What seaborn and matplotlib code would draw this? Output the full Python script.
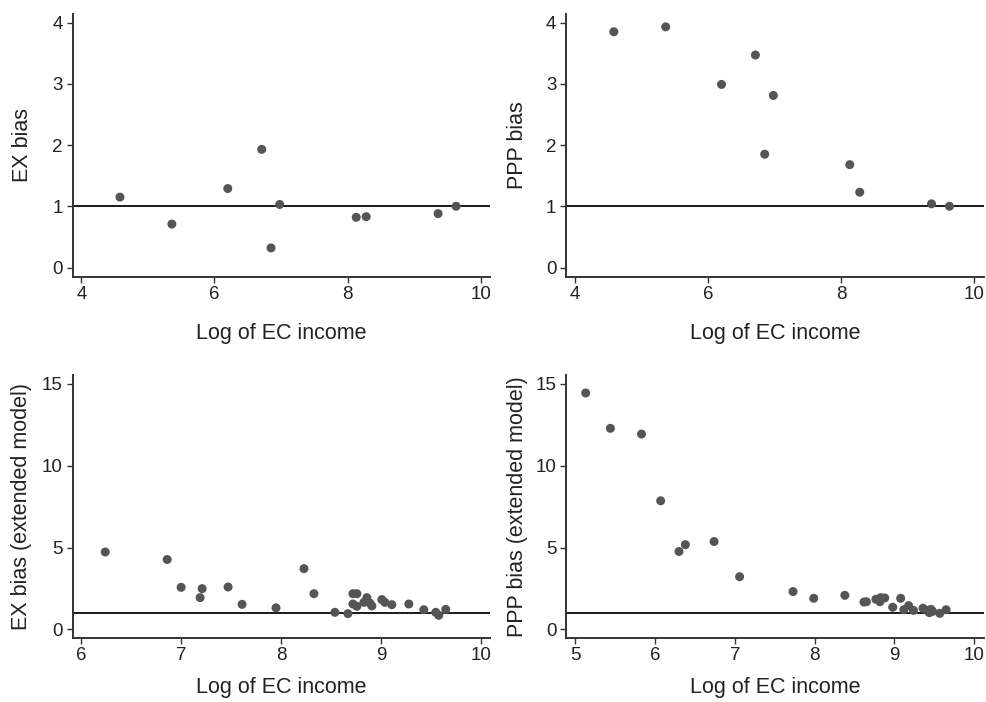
import matplotlib
matplotlib.use("Agg")
import matplotlib.pyplot as plt
import seaborn as sns
import pandas as pd

# ---- data ----
log_ec_income = [4.58, 5.36, 6.20, 6.71, 6.85, 6.98, 8.13, 8.28, 9.36, 9.63]
ex_bias = [1.15, 0.71, 1.29, 1.93, 0.32, 1.03, 0.82, 0.83, 0.88, 1.00]
ppp_bias = [3.85, 3.93, 2.99, 3.47, 1.85, 2.81, 1.68, 1.23, 1.04, 1.00]

ext_ex_income = [6.24, 6.86, 7.00, 7.19, 7.21, 7.47, 7.61, 7.95, 8.23, 8.33,
                 8.54, 8.67, 8.72, 8.72, 8.76, 8.76, 8.83, 8.86, 8.89, 8.91,
                 9.01, 9.04, 9.11, 9.28, 9.43, 9.55, 9.58, 9.65]
ext_ex_bias = [4.73, 4.27, 2.57, 1.94, 2.49, 2.59, 1.53, 1.31, 3.71, 2.18,
               1.04, 0.96, 2.18, 1.55, 2.18, 1.41, 1.65, 1.94, 1.61, 1.43,
               1.82, 1.65, 1.51, 1.55, 1.20, 1.04, 0.86, 1.22]

ext_ppp_income = [5.13, 5.44, 5.83, 6.07, 6.30, 6.38, 6.74, 7.06, 7.73, 7.99,
                  8.38, 8.62, 8.65, 8.77, 8.82, 8.83, 8.88, 8.98, 9.08, 9.12,
                  9.18, 9.24, 9.36, 9.42, 9.44, 9.46, 9.48, 9.57, 9.65]
ext_ppp_bias = [14.45, 12.29, 11.94, 7.86, 4.76, 5.18, 5.37, 3.22, 2.31, 1.90,
                2.08, 1.67, 1.69, 1.84, 1.69, 1.94, 1.92, 1.35, 1.90, 1.20,
                1.45, 1.16, 1.29, 1.16, 1.02, 1.22, 1.10, 0.98, 1.20]

x_label = "Log of EC income"
y_labels = ["EX bias", "PPP bias", "EX bias (extended model)", "PPP bias (extended model)"]
x_ticks = [[4, 6, 8, 10], [4, 6, 8, 10], [6, 7, 8, 9, 10], [5, 6, 7, 8, 9, 10]]
y_ticks = [[0, 1, 2, 3, 4], [0, 1, 2, 3, 4], [0, 5, 10, 15], [0, 5, 10, 15]]
x_lims = [(3.87, 10.14), (3.86, 10.15), (5.914, 10.093), (4.883, 10.125)]
y_lims = [(-0.15, 4.14), (-0.15, 4.14), (-0.51, 15.55), (-0.51, 15.55)]

panels = [
    pd.DataFrame({"x": log_ec_income, "y": ex_bias}),
    pd.DataFrame({"x": log_ec_income, "y": ppp_bias}),
    pd.DataFrame({"x": ext_ex_income, "y": ext_ex_bias}),
    pd.DataFrame({"x": ext_ppp_income, "y": ext_ppp_bias}),
]

sns.set_style("ticks")
plt.rcParams["font.family"] = ["Liberation Sans", "DejaVu Sans"]
plt.rcParams["text.color"] = "#222222"

fig = plt.figure(figsize=(9.86, 7.02), dpi=100)
W, H = 986.0, 702.0
rects = [
    (72.7, 14, 490, 276.7),
    (566, 14, 984, 276.7),
    (72.7, 375, 490, 637.7),
    (566, 375, 984, 637.7),
]
label_x = [-0.095, -0.091, -0.098, -0.091]
xlabel_y = [-0.175, -0.175, -0.15, -0.15]

for i, (l, t, r, b) in enumerate(rects):
    ax = fig.add_axes([l / W, 1 - b / H, (r - l) / W, (b - t) / H])
    sns.scatterplot(data=panels[i], x="x", y="y", ax=ax, color="#555555",
                    s=42, edgecolor="none", linewidth=0, zorder=3)
    ax.axhline(1, color="#1a1a1a", lw=1.4, zorder=2)
    ax.set_xlim(*x_lims[i])
    ax.set_ylim(*y_lims[i])
    ax.set_xticks(x_ticks[i])
    ax.set_yticks(y_ticks[i])
    ax.set_xlabel(x_label, fontsize=15.5, color="#222222")
    ax.set_ylabel(y_labels[i], fontsize=15.5, color="#222222")
    ax.xaxis.set_label_coords(0.5, xlabel_y[i])
    ax.xaxis.label.set_verticalalignment("top")
    ax.yaxis.set_label_coords(label_x[i], 0.5)
    for side in ["top", "right"]:
        ax.spines[side].set_visible(False)
    for side in ["left", "bottom"]:
        ax.spines[side].set_linewidth(1.4)
        ax.spines[side].set_color("#333333")
    ax.tick_params(axis="both", direction="out", length=4, width=1.0,
                   color="#333333", labelsize=13.5, labelcolor="#222222", pad=3)

fig.savefig("out.png", dpi=100)
